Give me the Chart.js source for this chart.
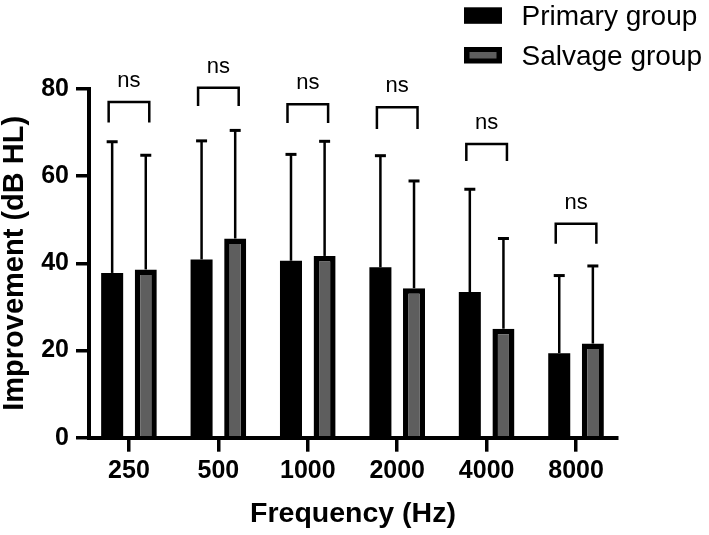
<!DOCTYPE html>
<html><head><meta charset="utf-8">
<script src="https://cdn.jsdelivr.net/npm/chart.js@4.4.1/dist/chart.umd.min.js"></script>
<style>html,body{margin:0;padding:0;background:#fff;} canvas{display:block;}</style>
</head><body>
<canvas id="c" width="709" height="535"></canvas>
<script>
// ---- data ----
const categories = ['250', '500', '1000', '2000', '4000', '8000'];
const seriesNames = ['Primary group', 'Salvage group'];
const primaryMean = [37.8, 40.9, 40.6, 39.1, 33.4, 19.4];
const primarySD   = [30.1, 27.2, 24.4, 25.6, 23.6, 17.8];
const salvageMean = [38.6, 45.7, 41.7, 34.3, 25.0, 21.6];
const salvageSD   = [26.2, 24.8, 26.3, 24.6, 20.7, 17.8];
const bracketTop  = [77.0, 80.3, 76.5, 75.8, 67.4, 49.1];
const bracketBase = [72.3, 76.1, 72.2, 70.8, 63.5, 44.5];
const bracketText = ['ns', 'ns', 'ns', 'ns', 'ns', 'ns'];
const yTicks = [0, 20, 40, 60, 80];

const FONT = "'Liberation Sans', Arial, Helvetica, sans-serif";
const fills = ['#000000', '#5e5e5e'];
const errors = [primarySD, salvageSD];

const errorBarPlugin = {
  id: 'errorBars',
  afterDatasetsDraw(chart) {
    const ctx = chart.ctx, ys = chart.scales.y;
    chart.data.datasets.forEach((ds, di) => {
      const meta = chart.getDatasetMeta(di);
      meta.data.forEach((el, i) => {
        const tip = ys.getPixelForValue(ds.data[i].y + errors[di][i]);
        ctx.save();
        ctx.strokeStyle = '#000';
        ctx.lineWidth = 2.5;
        ctx.beginPath(); ctx.moveTo(el.x, el.y); ctx.lineTo(el.x, tip); ctx.stroke();
        ctx.lineWidth = 3;
        ctx.beginPath(); ctx.moveTo(el.x - 5.5, tip); ctx.lineTo(el.x + 5.5, tip); ctx.stroke();
        ctx.restore();
      });
    });
  }
};

const bracketPlugin = {
  id: 'brackets',
  afterDraw(chart) {
    const ctx = chart.ctx, ys = chart.scales.y;
    const m0 = chart.getDatasetMeta(0), m1 = chart.getDatasetMeta(1);
    categories.forEach((c, i) => {
      const x0 = m0.data[i].x - 3.5, x1 = m1.data[i].x + 3.5;
      const yt = ys.getPixelForValue(bracketTop[i]);
      const yb = ys.getPixelForValue(bracketBase[i]);
      ctx.save();
      ctx.strokeStyle = '#000'; ctx.lineWidth = 2.5; ctx.lineJoin = 'miter';
      ctx.beginPath();
      ctx.moveTo(x0, yb); ctx.lineTo(x0, yt); ctx.lineTo(x1, yt); ctx.lineTo(x1, yb);
      ctx.stroke();
      ctx.fillStyle = '#000';
      ctx.font = '22px ' + FONT;
      ctx.textAlign = 'center'; ctx.textBaseline = 'alphabetic';
      ctx.fillText(bracketText[i], (x0 + x1) / 2, yt - 15);
      ctx.restore();
    });
  }
};

const legendPlugin = {
  id: 'customLegend',
  afterDraw(chart) {
    const ctx = chart.ctx;
    const rows = [{y: 7.3, base: 25}, {y: 47, base: 64.5}];
    chart.data.datasets.forEach((ds, di) => {
      const r = rows[di];
      ctx.save();
      ctx.fillStyle = '#000';
      ctx.fillRect(464, r.y, 38, 16.5);
      if (di === 1) {
        ctx.fillStyle = ds.backgroundColor;
        ctx.fillRect(469.5, r.y + 5, 27, 6.5);
      }
      ctx.fillStyle = '#000';
      ctx.font = '28px ' + FONT;
      ctx.textAlign = 'left'; ctx.textBaseline = 'alphabetic';
      ctx.fillText(ds.label, 521.5, r.base);
      ctx.restore();
    });
  }
};

const makeData = means => categories.map((c, i) => ({x: i, y: means[i]}));

new Chart(document.getElementById('c'), {
  type: 'bar',
  data: {
    datasets: [
      {label: seriesNames[0], data: makeData(primaryMean), backgroundColor: fills[0],
       borderColor: '#000', borderWidth: 0},
      {label: seriesNames[1], data: makeData(salvageMean), backgroundColor: fills[1],
       borderColor: '#000', borderWidth: 5.5}
    ]
  },
  options: {
    responsive: false,
    animation: false,
    devicePixelRatio: 1,
    categoryPercentage: 0.752,
    barPercentage: 0.655,
    layout: {padding: {left: 0, right: 92, top: 89, bottom: 0}},
    plugins: {legend: {display: false}, tooltip: {enabled: false}},
    scales: {
      x: {
        type: 'linear', min: -0.447, max: 5.458, offset: false,
        afterBuildTicks: s => { s.ticks = categories.map((c, i) => ({value: i})); },
        afterFit: s => { s.height = 97.3; },
        ticks: {callback: v => categories[v], color: '#000', padding: 4, autoSkip: false, maxRotation: 0,
                font: {family: FONT, size: 25, weight: 'bold'}},
        grid: {display: true, offset: false, drawOnChartArea: false, drawTicks: true, tickLength: 14,
               tickWidth: 3.5, tickColor: '#000', lineWidth: 3.5, color: '#000'},
        border: {display: true, width: 4, color: '#000'},
        title: {display: true, text: 'Frequency (Hz)', color: '#000', padding: {top: 0, bottom: 4},
                font: {family: FONT, size: 28.5, weight: 'bold'}}
      },
      y: {
        min: 0, max: 80,
        afterBuildTicks: s => { s.ticks = yTicks.map(v => ({value: v})); },
        afterFit: s => { s.width = 89; },
        ticks: {color: '#000', padding: 7, font: {family: FONT, size: 25, weight: 'bold'}},
        grid: {display: true, drawOnChartArea: false, drawTicks: true, tickLength: 13,
               tickWidth: 3.5, tickColor: '#000', lineWidth: 3.5, color: '#000'},
        border: {display: true, width: 4, color: '#000'},
        title: {display: true, text: 'Improvement (dB HL)', color: '#000', padding: {top: 0, bottom: 0},
                font: {family: FONT, size: 29, weight: 'bold', lineHeight: 1}}
      }
    }
  },
  plugins: [errorBarPlugin, bracketPlugin, legendPlugin]
});
</script>
</body></html>
